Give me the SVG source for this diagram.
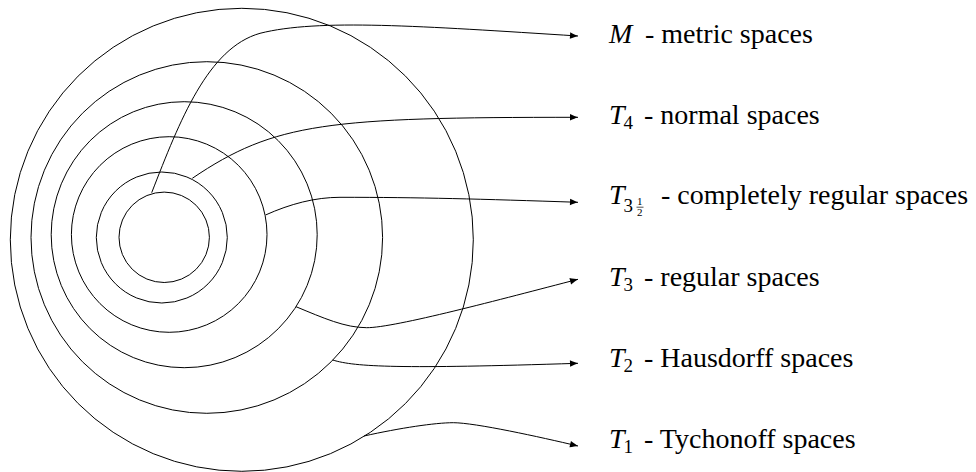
<svg xmlns="http://www.w3.org/2000/svg" width="976" height="472" viewBox="0 0 976 472">
<style>
.ring{fill:none;stroke:#000;stroke-width:1}
.conn{fill:none;stroke:#000;stroke-width:1;marker-end:url(#arr)}
.lbl{font-family:"Liberation Serif","Times New Roman",serif;font-size:28px;fill:#000}
.mi{font-style:italic}
.sub{font-family:"Liberation Serif","Times New Roman",serif;font-size:19px;fill:#000}
.frac{font-family:"Liberation Serif","Times New Roman",serif;font-size:11px;fill:#000}
</style>
<defs>
<marker id="arr" markerUnits="userSpaceOnUse" viewBox="-9 -4 10 8" refX="0" refY="0" markerWidth="10" markerHeight="8" orient="auto" overflow="visible">
<path d="M0,0 C-2,-0.7 -5,-1.9 -8,-3.3 L-8,3.3 C-5,1.9 -2,0.7 0,0 Z" fill="#000"/>
</marker>
</defs>
<rect width="976" height="472" fill="#fff"/>
<g id="rings">
<g id="ring-T1"><circle class="ring" cx="241.8" cy="239.8" r="231.5"/></g>
<g id="ring-T2"><circle class="ring" cx="206.8" cy="237.5" r="175.8"/></g>
<g id="ring-T3"><circle class="ring" cx="184.2" cy="234.7" r="133"/></g>
<g id="ring-T3half"><circle class="ring" cx="169.2" cy="234.5" r="97.8"/></g>
<g id="ring-T4"><circle class="ring" cx="161.8" cy="237.5" r="65.5"/></g>
<g id="ring-M"><circle class="ring" cx="164.2" cy="237.3" r="45.2"/></g>
</g>
<g id="connectors">
<path class="conn" d="M151.7,192.7 C180,120 208,48 260,33.3 C318,18.6 420,26 578,36"/>
<path class="conn" d="M192.3,178.3 C275,122.3 328,117.3 578,117.3"/>
<path class="conn" d="M265.5,215 C290,204 315,197.3 340,197.3 C420,197.3 480,199 578,202.3"/>
<path class="conn" d="M296,306.7 C323.6,318.1 345,327.7 366.7,327.7 C395,327.7 500.6,299.3 578,279.3"/>
<path class="conn" d="M332.7,360 C355,367 400,369 578,363.3"/>
<path class="conn" d="M364,436 C400,428 435,422.7 453.3,422.7 C475,422.7 540,437 578,446"/>
</g>
<g id="label-M">
<text class="lbl mi" x="609" y="42.5">M</text>
<text class="lbl" x="645" y="42.5">- metric spaces</text>
</g>
<g id="label-T4">
<text class="lbl mi" x="609" y="123.5">T</text>
<text class="sub" x="623.5" y="128.5">4</text>
<text class="lbl" x="644" y="123.5">- normal spaces</text>
</g>
<g id="label-T3half">
<text class="lbl mi" x="609" y="204">T</text>
<text class="sub" x="623.5" y="212">3</text>
<text class="frac" x="637" y="205">1</text>
<line x1="636.5" y1="207.2" x2="643.5" y2="207.2" stroke="#000" stroke-width="0.7"/>
<text class="frac" x="637" y="215.5">2</text>
<text class="lbl" x="661" y="204">- completely regular spaces</text>
</g>
<g id="label-T3">
<text class="lbl mi" x="609" y="285.5">T</text>
<text class="sub" x="623.5" y="290.5">3</text>
<text class="lbl" x="644" y="285.5">- regular spaces</text>
</g>
<g id="label-T2">
<text class="lbl mi" x="609" y="367">T</text>
<text class="sub" x="623.5" y="372">2</text>
<text class="lbl" x="644" y="367">- Hausdorff spaces</text>
</g>
<g id="label-T1">
<text class="lbl mi" x="609" y="448">T</text>
<text class="sub" x="623.5" y="453">1</text>
<text class="lbl" x="644" y="448">- Tychonoff spaces</text>
</g>
</svg>
